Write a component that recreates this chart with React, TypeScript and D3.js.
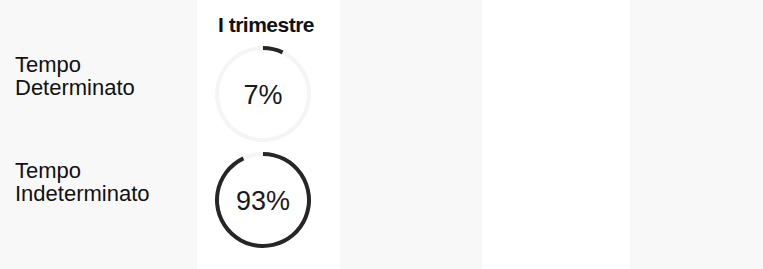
import { arc, pie, scaleBand } from "d3";

const WIDTH = 763;
const HEIGHT = 269;

const columnTitle = "I trimestre";
const categories = ["Tempo Determinato", "Tempo Indeterminato"];
const shares = [7, 93];

// faint scanned panels behind the chart
const panelEdges: [number, number][] = [
  [0, 197],
  [340, 482],
  [630, 763],
];

const CENTER_X = 263;
const OUTER_R = 48;
const INNER_R = 44;

export default function App() {
  const y = scaleBand<string>()
    .domain(categories)
    .range([41, 253])
    .paddingInner(0);

  const pieGen = pie<number>().sort(null).value(d => d);
  const arcGen = arc<any>().innerRadius(INNER_R).outerRadius(OUTER_R);

  return (
    <div style={{ position: "fixed", left: 0, top: 0 }}>
      <svg width={WIDTH} height={HEIGHT} style={{ display: "block", background: "#fff" }}>
        {panelEdges.map(([a, b]) => (
          <rect key={a} x={a} y={0} width={b - a} height={HEIGHT} fill="#f8f8f8" />
        ))}

        <text
          x={CENTER_X + 3}
          y={32}
          textAnchor="middle"
          fontFamily="Liberation Sans, Arial, sans-serif"
          fontWeight="bold"
          fontSize={21}
          letterSpacing={-0.5}
          fill="#111">
          {columnTitle}
        </text>

        {categories.map((cat, i) => {
          const cy = (y(cat) ?? 0) + y.bandwidth() / 2;
          const [first, second] = cat.split(" ");
          const v = shares[i];
          const slices = pieGen([v, 100 - v]);
          return (
            <g key={cat}>
              <text
                x={15}
                y={cy - 22}
                fontFamily="Liberation Sans, Arial, sans-serif"
                fontSize={22}
                fill="#111">
                <tspan x={15}>{first}</tspan>
                <tspan x={15} dy={23}>{second}</tspan>
              </text>
              <g transform={`translate(${CENTER_X},${cy})`}>
                <path d={arcGen(slices[1]) ?? ""} fill="#f5f5f5" />
                <path d={arcGen(slices[0]) ?? ""} fill="#262626" />
                <text
                  y={10}
                  textAnchor="middle"
                  fontFamily="Liberation Sans, Arial, sans-serif"
                  fontSize={27}
                  fill="#1a1a1a">
                  {v}%
                </text>
              </g>
            </g>
          );
        })}
      </svg>
    </div>
  );
}
